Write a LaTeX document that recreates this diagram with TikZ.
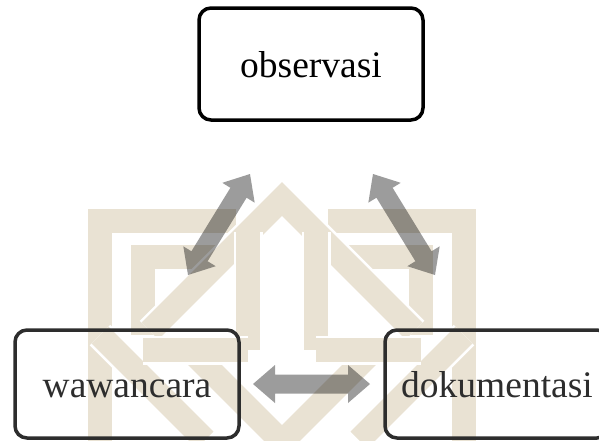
\documentclass[tikz,border=0pt]{standalone}
\usepackage{fontspec}
\setmainfont{Liberation Serif}
\usetikzlibrary{calc}
\definecolor{knotbeige}{RGB}{233,226,211}
\definecolor{arrowgray}{RGB}{156,156,156}
\definecolor{boxdark}{RGB}{45,45,45}
% block arrow with a head at both ends, drawn as one outline:
% #1, #2 = tip coordinates, head length 22pt, head half width 19pt,
% shaft half width 9.5pt
\newcommand\blockdual[2]{%
  \fill[arrowfill] (#1)
    -- ($(#1)!22pt!(#2)!19pt!90:(#2)$)
    -- ($(#1)!22pt!(#2)!9.5pt!90:(#2)$)
    -- ($(#2)!22pt!(#1)!9.5pt!-90:(#1)$)
    -- ($(#2)!22pt!(#1)!19pt!-90:(#1)$)
    -- (#2)
    -- ($(#2)!22pt!(#1)!19pt!90:(#1)$)
    -- ($(#2)!22pt!(#1)!9.5pt!90:(#1)$)
    -- ($(#1)!22pt!(#2)!9.5pt!-90:(#2)$)
    -- ($(#1)!22pt!(#2)!19pt!-90:(#2)$)
    -- cycle;}
\begin{document}
\begin{tikzpicture}[x=1pt,y=-1pt,
  box/.style={draw, line width=3.5pt, rounded corners=12pt,
    minimum width=224pt, minimum height=108pt, inner sep=0pt,
    text height=26pt, text depth=0pt,
    font=\fontsize{37.5}{40}\selectfont},
  band/.style={draw=white, line width=2.5pt, double=knotbeige,
    double distance=24pt, line join=miter},
  arrowfill/.style={fill=arrowgray}
]
\useasboundingbox (0,0) rectangle (599,440);

% faint interlaced emblem in the background
\begin{scope}
  \clip (0,0) rectangle (599,440);
  \draw[band] (100,450) -- (100,221) -- (236,221);
  \draw[band] (464,450) -- (464,221) -- (328,221);
  \draw[band] (143,335) -- (143,257) -- (222,257);
  \draw[band] (421,335) -- (421,257) -- (342,257);
  \draw[band] (150,331) -- (282,199) -- (414,331);
  \draw[band] (248,232) -- (248,350);
  \draw[band] (316,232) -- (316,350);
  \draw[band] (100,335) -- (205,440);
  \draw[band] (464,335) -- (359,440);
  \draw[band] (190,350) -- (282,442) -- (374,350);
  \draw[band] (143,350) -- (248,350);
  \draw[band] (421,350) -- (316,350);
\end{scope}

% the three boxes
\node[box, minimum height=112pt] (obs) at (311,64) {observasi};
\node[box, draw=boxdark, text=boxdark] (waw) at (127,384) {wawancara};
\node[box, draw=boxdark, text=boxdark] (dok) at (497,384) {dokumentasi};

% arrow tips, just off the box borders
\coordinate (obsL) at (250,174);
\coordinate (wawT) at (188,275);
\coordinate (obsR) at (373,174);
\coordinate (dokT) at (435,275);
\coordinate (wawR) at (253,384);
\coordinate (dokL) at (370,384);

% two-headed arrows between the boxes, tinting the emblem below them
\begin{scope}[blend mode=multiply]
  \blockdual{obsL}{wawT}
  \blockdual{obsR}{dokT}
  \blockdual{wawR}{dokL}
\end{scope}
\end{tikzpicture}
\end{document}
